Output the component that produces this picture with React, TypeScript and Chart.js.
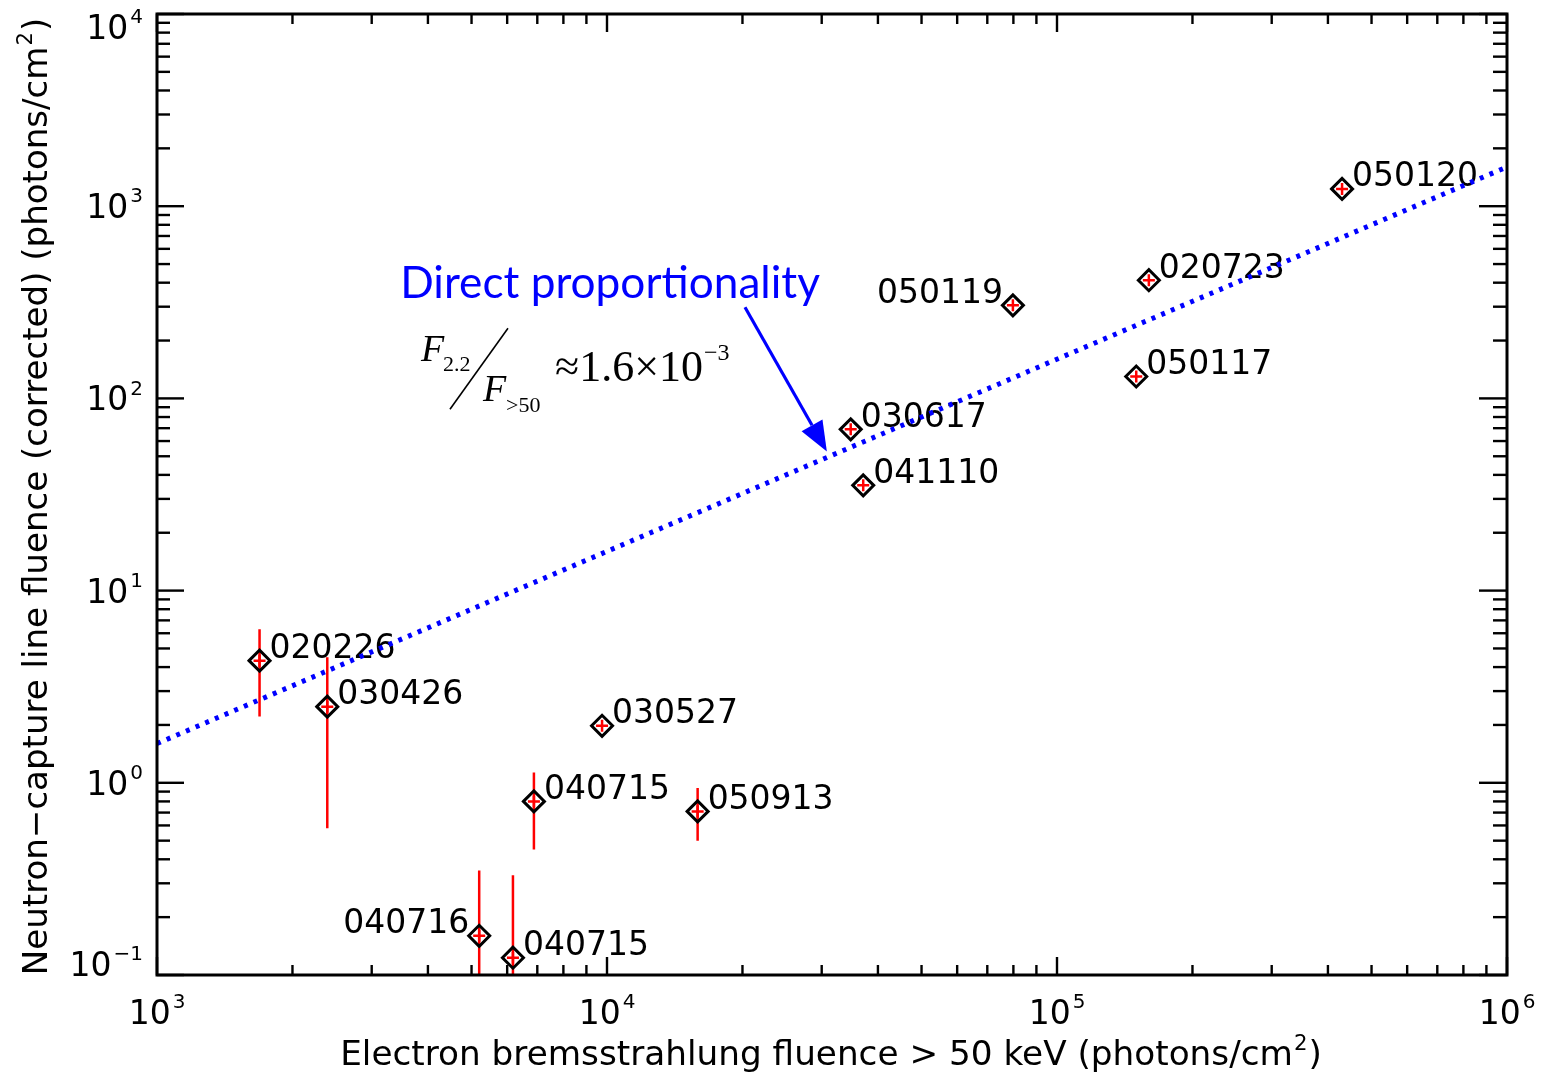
import React, { useEffect, useRef } from "react";
import { Chart, registerables } from "chart.js";

Chart.register(...registerables);

// ---------- data ----------
const eventNames = ["020226", "030426", "030527", "040715", "050913", "040716", "040715", "030617", "041110", "050119", "020723", "050117", "050120"];
const bremsFluence = [1690, 2390, 9750, 6880, 15900, 5200, 6180, 34800, 37100, 79800, 160000, 150000, 430000];
const neutronFluence = [4.32, 2.49, 1.98, 0.8, 0.71, 0.16, 0.123, 69, 35.3, 305, 412, 130, 1230];
const neutronErrLow = [2.21, 0.58, null, 0.45, 0.5, 0.05, 0.05, null, null, null, null, null, null];
const neutronErrHigh = [6.3, 4.5, null, 1.13, 0.94, 0.35, 0.33, null, null, null, null, null, null];
const labelSide = ["right", "right", "right", "right", "right", "left", "right", "right", "right", "left", "right", "right", "right"];

const fitX = [1e3, 1e6];
const fitY = [1.6, 1600];

const xMajorTicks = [1e3, 1e4, 1e5, 1e6];
const xTickExponents = ["3", "4", "5", "6"];
const yMajorTicks = [0.1, 1, 10, 100, 1000, 10000];
const yTickExponents = ["\u22121", "0", "1", "2", "3", "4"];
const minorMultipliers = [2, 3, 4, 5, 6, 7, 8, 9];

const xTitle = "Electron bremsstrahlung fluence > 50 keV (photons/cm";
const yTitle = "Neutron\u2212capture line fluence (corrected) (photons/cm";
const titleSup = "2";
const annotationText = "Direct proportionality";

// annotation anchors (data coordinates)
const annotTextAt = { x: 3470, y: 393 };
const arrowTail = { x: 20260, y: 298 };
const arrowTip = { x: 30800, y: 53 };
const formulaAt = { x: 3900, y: 160 };

const AXIS_FONT = "'DejaVu Sans', sans-serif";
const SERIF = "'Liberation Serif', 'Times New Roman', serif";

function drawSupLabel(ctx: CanvasRenderingContext2D, base: string, sup: string, x: number, y: number, align: "center" | "right", size: number) {
  ctx.font = `${size}px ${AXIS_FONT}`;
  const wb = ctx.measureText(base).width;
  const supSize = Math.round(size * 0.62);
  ctx.font = `${supSize}px ${AXIS_FONT}`;
  const ws = ctx.measureText(sup).width;
  const gap = 2;
  const total = wb + gap + ws;
  const x0 = align === "center" ? x - total / 2 : x - total;
  ctx.textAlign = "left";
  ctx.textBaseline = "alphabetic";
  ctx.font = `${size}px ${AXIS_FONT}`;
  ctx.fillText(base, x0, y);
  ctx.font = `${supSize}px ${AXIS_FONT}`;
  ctx.fillText(sup, x0 + wb + gap, y - size * 0.48);
}

const idlPlugin = {
  id: "idlPlugin",
  beforeDatasetsDraw(chart: any) {
    const ctx: CanvasRenderingContext2D = chart.ctx;
    const xs = chart.scales.x;
    const ys = chart.scales.y;
    ctx.save();
    ctx.fillStyle = "#000";
    ctx.font = `33px ${AXIS_FONT}`;
    ctx.textBaseline = "middle";
    for (let i = 0; i < eventNames.length; i++) {
      const px = xs.getPixelForValue(bremsFluence[i]);
      const py = ys.getPixelForValue(neutronFluence[i]);
      if (labelSide[i] === "left") {
        ctx.textAlign = "right";
        ctx.fillText(eventNames[i], px - 10, py - 11);
      } else {
        ctx.textAlign = "left";
        ctx.fillText(eventNames[i], px + 10, py - 11);
      }
    }
    ctx.restore();
  },
  afterDraw(chart: any) {
    const ctx: CanvasRenderingContext2D = chart.ctx;
    const xs = chart.scales.x;
    const ys = chart.scales.y;
    const a = chart.chartArea;
    ctx.save();
    ctx.strokeStyle = "#000";
    ctx.fillStyle = "#000";

    // frame
    ctx.lineWidth = 3;
    ctx.strokeRect(a.left, a.top, a.right - a.left, a.bottom - a.top);

    // ticks
    ctx.lineWidth = 2.4;
    const line = (x1: number, y1: number, x2: number, y2: number) => {
      ctx.beginPath();
      ctx.moveTo(x1, y1);
      ctx.lineTo(x2, y2);
      ctx.stroke();
    };
    for (let i = 0; i < xMajorTicks.length; i++) {
      const v = xMajorTicks[i];
      const p = xs.getPixelForValue(v);
      line(p, a.bottom, p, a.bottom - 18);
      line(p, a.top, p, a.top + 18);
      if (i < xMajorTicks.length - 1) {
        for (const m of minorMultipliers) {
          const q = xs.getPixelForValue(v * m);
          line(q, a.bottom, q, a.bottom - 10);
          line(q, a.top, q, a.top + 10);
        }
      }
    }
    for (let i = 0; i < yMajorTicks.length; i++) {
      const v = yMajorTicks[i];
      const p = ys.getPixelForValue(v);
      line(a.left, p, a.left + 27, p);
      line(a.right, p, a.right - 28, p);
      if (i < yMajorTicks.length - 1) {
        for (const m of minorMultipliers) {
          const q = ys.getPixelForValue(v * m);
          line(a.left, q, a.left + 13, q);
          line(a.right, q, a.right - 14, q);
        }
      }
    }

    // tick labels
    for (let i = 0; i < xMajorTicks.length; i++) {
      const p = xs.getPixelForValue(xMajorTicks[i]);
      drawSupLabel(ctx, "10", xTickExponents[i], p, a.bottom + 49, "center", 33);
    }
    for (let i = 0; i < yMajorTicks.length; i++) {
      const p = ys.getPixelForValue(yMajorTicks[i]);
      const c = Math.min(Math.max(p, a.top + 13), a.bottom - 11);
      drawSupLabel(ctx, "10", yTickExponents[i], a.left - 14, c + 12, "right", 33);
    }

    // axis titles (fit to the frame span)
    const drawTitle = (text: string, target: number) => {
      ctx.font = `28px ${AXIS_FONT}`;
      const w0 = ctx.measureText(text).width;
      ctx.font = `17px ${AXIS_FONT}`;
      const ws0 = ctx.measureText(titleSup).width;
      ctx.font = `28px ${AXIS_FONT}`;
      const wc0 = ctx.measureText(")").width;
      const s = (28 * target) / (w0 + ws0 + wc0 + 2);
      const supS = s * 0.62;
      ctx.font = `${s}px ${AXIS_FONT}`;
      const w = ctx.measureText(text).width;
      const wc = ctx.measureText(")").width;
      ctx.font = `${supS}px ${AXIS_FONT}`;
      const ws = ctx.measureText(titleSup).width;
      const total = w + ws + wc + 2;
      let x = -total / 2;
      ctx.textAlign = "left";
      ctx.textBaseline = "alphabetic";
      ctx.font = `${s}px ${AXIS_FONT}`;
      ctx.fillText(text, x, 0);
      x += w + 1;
      ctx.font = `${supS}px ${AXIS_FONT}`;
      ctx.fillText(titleSup, x, -s * 0.45);
      x += ws + 1;
      ctx.font = `${s}px ${AXIS_FONT}`;
      ctx.fillText(")", x, 0);
    };
    ctx.save();
    ctx.translate(831, a.bottom + 90);
    drawTitle(xTitle, 982);
    ctx.restore();
    ctx.save();
    ctx.translate(a.left - 110, (a.top + a.bottom) / 2 + 2);
    ctx.rotate(-Math.PI / 2);
    drawTitle(yTitle, 958);
    ctx.restore();

    // annotation text
    const blue = "#0000ff";
    ctx.fillStyle = blue;
    ctx.font = `36px Lato, 'Open Sans', sans-serif`;
    const wa = ctx.measureText(annotationText).width;
    const as = (36 * 420) / wa;
    ctx.font = `${as}px Lato, 'Open Sans', sans-serif`;
    ctx.textAlign = "left";
    ctx.textBaseline = "middle";
    ctx.fillText(annotationText, xs.getPixelForValue(annotTextAt.x), ys.getPixelForValue(annotTextAt.y));

    // arrow
    const tx = xs.getPixelForValue(arrowTail.x);
    const ty = ys.getPixelForValue(arrowTail.y);
    const hx = xs.getPixelForValue(arrowTip.x);
    const hy = ys.getPixelForValue(arrowTip.y);
    const ang = Math.atan2(hy - ty, hx - tx);
    const headLen = 30;
    const headW = 12;
    const bx = hx - headLen * Math.cos(ang);
    const by = hy - headLen * Math.sin(ang);
    ctx.strokeStyle = blue;
    ctx.lineWidth = 3.2;
    line(tx, ty, bx, by);
    ctx.beginPath();
    ctx.moveTo(hx, hy);
    ctx.lineTo(bx + headW * Math.sin(ang), by - headW * Math.cos(ang));
    ctx.lineTo(bx - headW * Math.sin(ang), by + headW * Math.cos(ang));
    ctx.closePath();
    ctx.fill();

    // formula
    const fx = xs.getPixelForValue(formulaAt.x);
    const fy = ys.getPixelForValue(formulaAt.y);
    ctx.fillStyle = "#000";
    ctx.strokeStyle = "#000";
    ctx.textBaseline = "alphabetic";
    ctx.textAlign = "left";
    ctx.font = `italic 38px ${SERIF}`;
    ctx.fillText("F", fx - 2, fy + 2);
    ctx.font = `22px ${SERIF}`;
    ctx.fillText("2.2", fx + 20, fy + 12);
    ctx.lineWidth = 1.6;
    line(fx + 27, fy + 50, fx + 85, fy - 31);
    ctx.font = `italic 38px ${SERIF}`;
    ctx.fillText("F", fx + 60, fy + 42);
    ctx.font = `22px ${SERIF}`;
    ctx.fillText(">50", fx + 83, fy + 53);
    ctx.font = `44px ${SERIF}`;
    const main = "\u22481.6\u00d710";
    ctx.fillText(main, fx + 132, fy + 22);
    const wm = ctx.measureText(main).width;
    ctx.font = `24px ${SERIF}`;
    ctx.fillText("\u22123", fx + 132 + wm + 1, fy + 1);

    ctx.restore();
  },
};

export default function App() {
  const ref = useRef<HTMLCanvasElement | null>(null);
  useEffect(() => {
    document.body.style.margin = "0";
    const canvas = ref.current;
    if (!canvas) return;

    const points = bremsFluence.map((x, i) => ({ x, y: neutronFluence[i] }));
    const errData: { x: number; y: number | null }[] = [];
    for (let i = 0; i < bremsFluence.length; i++) {
      const lo = neutronErrLow[i];
      const hi = neutronErrHigh[i];
      if (lo === null || hi === null) continue;
      errData.push({ x: bremsFluence[i], y: lo });
      errData.push({ x: bremsFluence[i], y: hi });
      errData.push({ x: bremsFluence[i], y: null });
    }
    const fitData = fitX.map((x, i) => ({ x, y: fitY[i] }));

    const chart = new Chart(canvas, {
      type: "scatter",
      data: {
        datasets: [
          {
            type: "scatter",
            data: points,
            pointStyle: "rectRot",
            pointRadius: 10.5,
            borderWidth: 3,
            borderColor: "#000",
            backgroundColor: "rgba(0,0,0,0)",
            order: 1,
          } as any,
          {
            type: "scatter",
            data: points,
            pointStyle: "cross",
            pointRadius: 6,
            borderWidth: 2.5,
            borderColor: "#ff0000",
            backgroundColor: "#ff0000",
            order: 2,
          } as any,
          {
            type: "line",
            data: errData,
            borderColor: "#ff0000",
            borderWidth: 2.5,
            pointRadius: 0,
            spanGaps: false,
            fill: false,
            order: 3,
          } as any,
          {
            type: "line",
            data: fitData,
            borderColor: "#0000ff",
            borderWidth: 5,
            borderDash: [4, 6.5],
            pointRadius: 0,
            fill: false,
            order: 0,
          } as any,
        ],
      },
      options: {
        responsive: false,
        animation: false,
        events: [],
        layout: { padding: { left: 157, top: 14, right: 36, bottom: 99 } },
        plugins: { legend: { display: false }, tooltip: { enabled: false }, title: { display: false } },
        scales: {
          x: { type: "logarithmic", min: 1e3, max: 1e6, display: false },
          y: { type: "logarithmic", min: 0.1, max: 1e4, display: false },
        },
      },
      plugins: [idlPlugin as any],
    });
    return () => chart.destroy();
  }, []);

  return (
    <div style={{ width: 1543, height: 1074, background: "#fff" }}>
      <canvas ref={ref} width={1543} height={1074} style={{ display: "block", width: 1543, height: 1074 }} />
    </div>
  );
}
